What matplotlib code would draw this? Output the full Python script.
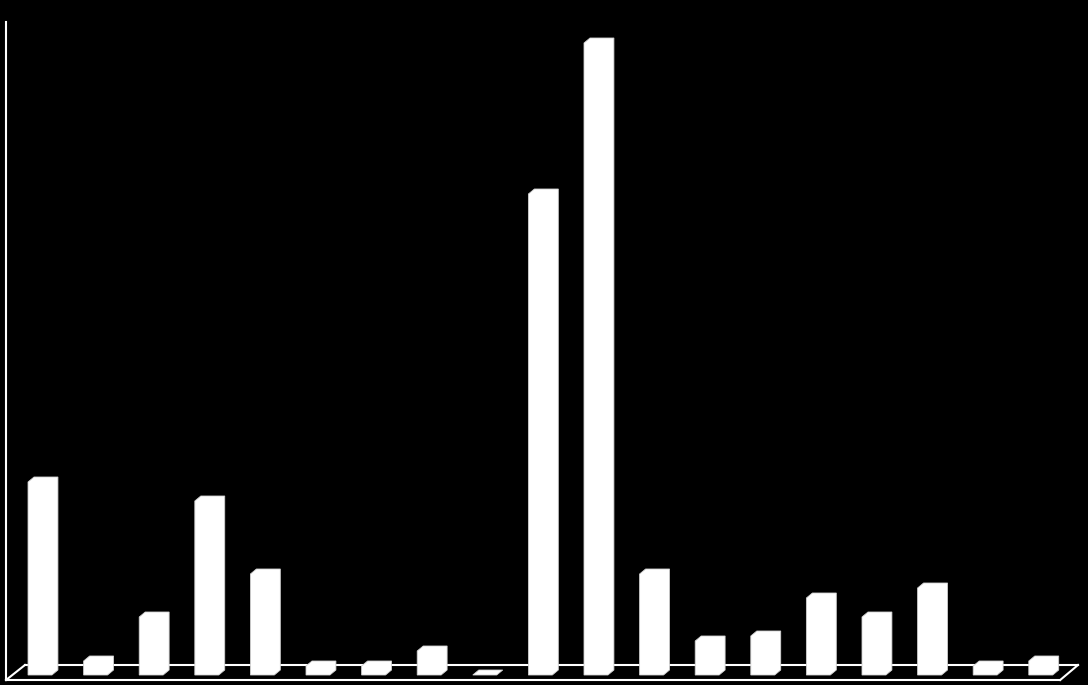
import matplotlib
matplotlib.use('Agg')

import matplotlib.pyplot as plt
from matplotlib.patches import Polygon

# === data (arbitrary units) ===
categories = [str(i + 1) for i in range(19)]
values = [193, 14, 58, 174, 101, 9, 9, 24, 0, 481, 632, 101, 34, 39, 77, 58, 87, 9, 14]

# === style ===
BAR_W = 0.43      # width of front face, in category units
DEPTH_X = 0.108   # 3d depth offset, category units
DEPTH_Y = 5       # 3d depth offset, value units
LW = 1.5

fig = plt.figure(figsize=(10.88, 6.85), dpi=100, facecolor='black')
ax = fig.add_axes([0, 0, 1, 1])
ax.set_facecolor('black')
ax.set_xlim(-0.719, 18.85)
ax.set_ylim(-10, 675)
ax.axis('off')

# === floor + wall outline ===
x_lo, x_hi = -0.61, 18.35
ax.plot([x_lo, x_hi], [-5, -5], color='white', lw=LW, zorder=1)
ax.plot([x_lo + 0.34, x_hi + 0.32], [10, 10], color='white', lw=LW, zorder=1)
ax.plot([x_lo, x_lo + 0.34], [-5, 10], color='white', lw=LW, zorder=1)
ax.plot([x_hi, x_hi + 0.32], [-5, 10], color='white', lw=LW, zorder=1)
ax.plot([x_lo, x_lo], [-5, 653], color='white', lw=LW, zorder=1)

# === bars: front face + top/side drawn as one hexagon ===
for i, v in enumerate(values):
    x0 = i - BAR_W / 2
    x1 = i + BAR_W / 2
    pts = [(x0, 0), (x1, 0), (x1 + DEPTH_X, DEPTH_Y),
           (x1 + DEPTH_X, v + DEPTH_Y), (x0 + DEPTH_X, v + DEPTH_Y), (x0, v)]
    ax.add_patch(Polygon(pts, closed=True, facecolor='white',
                         edgecolor='#d0d0d0', lw=0.6, zorder=3))

fig.savefig('out.png', dpi=100, facecolor='black')
